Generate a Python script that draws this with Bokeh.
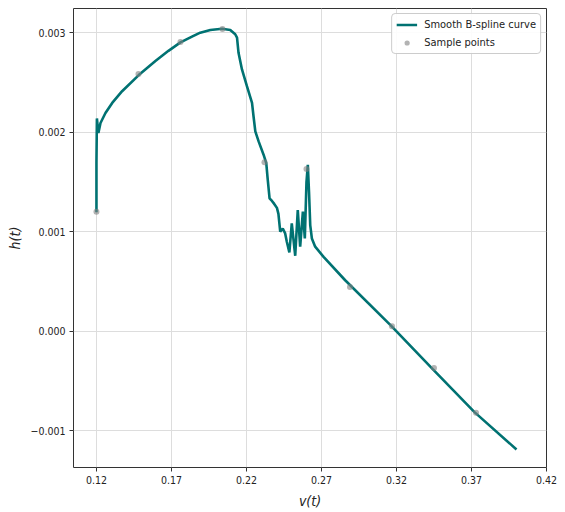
from bokeh.plotting import figure
from bokeh.models import FixedTicker, CustomJSTickFormatter, Legend, LegendItem, Range1d
from bokeh.embed import file_html
from bokeh.resources import INLINE

# Smooth B-spline curve (traced)
v_curve = [0.1200, 0.1200, 0.1203, 0.1213, 0.1227, 0.1260, 0.1305, 0.1371, 0.1482, 0.1593,
           0.1680, 0.1760, 0.1840, 0.1892, 0.1959, 0.2037, 0.2092, 0.2125, 0.2137, 0.2147,
           0.2170, 0.2203, 0.2237, 0.2247, 0.2259, 0.2281, 0.2314, 0.2332, 0.2341, 0.2354,
           0.2370, 0.2385, 0.2403, 0.2413, 0.2425, 0.2442, 0.2458, 0.2469, 0.2486, 0.2502,
           0.2525, 0.2542, 0.2558, 0.2576, 0.2589, 0.2600, 0.2609, 0.2617, 0.2625, 0.2636,
           0.2658, 0.2714, 0.2858, 0.3160, 0.3440, 0.3720, 0.4000]
h_curve = [0.001195, 0.00170, 0.00214, 0.001993, 0.002094, 0.002195, 0.002296, 0.002414, 0.002576, 0.002717,
           0.00282, 0.002905, 0.002965, 0.003003, 0.003030, 0.003043, 0.003030, 0.002987, 0.002953, 0.00280,
           0.002633, 0.002465, 0.002296, 0.002162, 0.00201, 0.001909, 0.001775, 0.00169, 0.001538, 0.001336,
           0.00131, 0.00128, 0.001240, 0.00118, 0.00100, 0.001033, 0.000983, 0.00090, 0.000791, 0.001084,
           0.000758, 0.001219, 0.00085, 0.001202, 0.000933, 0.00150, 0.001674, 0.00140, 0.001067, 0.000933,
           0.00085, 0.000747, 0.000512, 0.000060, -0.000380, -0.000815, -0.001190]

# Sample points
v_samples = [0.120, 0.148, 0.176, 0.204, 0.232, 0.260, 0.289, 0.317, 0.345, 0.373]
h_samples = [0.00120, 0.002586, 0.00291, 0.00304, 0.00170, 0.00163, 0.000444, 0.00005, -0.00037, -0.00082]

x_ticks = [0.12, 0.17, 0.22, 0.27, 0.32, 0.37, 0.42]
y_ticks = [-0.001, 0.000, 0.001, 0.002, 0.003]

FONT = "DejaVu Sans Condensed, DejaVu Sans, sans-serif"

p = figure(width=565, height=512, output_backend="svg", toolbar_location=None,
           x_range=Range1d(0.1047, 0.42), y_range=Range1d(-0.001372, 0.003246),
           min_border_left=73, min_border_right=19, min_border_top=8, min_border_bottom=45)

p.background_fill_color = "white"
p.outline_line_color = "#333333"
p.outline_line_width = 1

p.xgrid.grid_line_color = "#dddddd"
p.ygrid.grid_line_color = "#dddddd"

p.xaxis.ticker = FixedTicker(ticks=x_ticks)
p.yaxis.ticker = FixedTicker(ticks=y_ticks)
p.xaxis.formatter = CustomJSTickFormatter(code="return tick.toFixed(2);")
p.yaxis.formatter = CustomJSTickFormatter(code="return (tick < -1e-9 ? '\u2212' : '') + Math.abs(tick).toFixed(3);")

for ax in (p.xaxis[0], p.yaxis[0]):
    ax.axis_line_color = None
    ax.major_tick_line_color = "#333333"
    ax.major_tick_out = 4
    ax.major_tick_in = 0
    ax.minor_tick_line_color = None
    ax.major_label_text_font = FONT
    ax.major_label_text_font_size = "10.5px"
    ax.major_label_text_color = "#222222"
    ax.axis_label_text_font = FONT
    ax.axis_label_text_font_size = "14px"
    ax.axis_label_text_font_style = "italic"
    ax.axis_label_text_color = "#222222"

p.xaxis.axis_label = "v(t)"
p.yaxis.axis_label = "h(t)"
p.xaxis.major_label_standoff = 4
p.yaxis.major_label_standoff = 4
p.xaxis.axis_label_standoff = 6
p.yaxis.axis_label_standoff = 5

line = p.line(v_curve, h_curve, line_color="#007272", line_width=2.6)
pts = p.scatter(v_samples, h_samples, size=6, fill_color="gray", line_color=None, fill_alpha=0.6)

legend = Legend(items=[LegendItem(label="Smooth B-spline curve", renderers=[line]),
                       LegendItem(label="Sample points", renderers=[pts])],
                location="top_right")
legend.label_text_font = FONT
legend.label_text_font_size = "11px"
legend.label_text_color = "#222222"
legend.border_line_color = "#cccccc"
legend.border_line_alpha = 1
legend.background_fill_alpha = 0.9
legend.glyph_width = 21
legend.glyph_height = 13
legend.label_height = 13
legend.spacing = 5
legend.padding = 4
legend.margin = 5
legend.label_standoff = 7
if "border_radius" in Legend.properties():
    legend.border_radius = 4
p.add_layout(legend)

open("out.html", "w").write(file_html(p, INLINE))
